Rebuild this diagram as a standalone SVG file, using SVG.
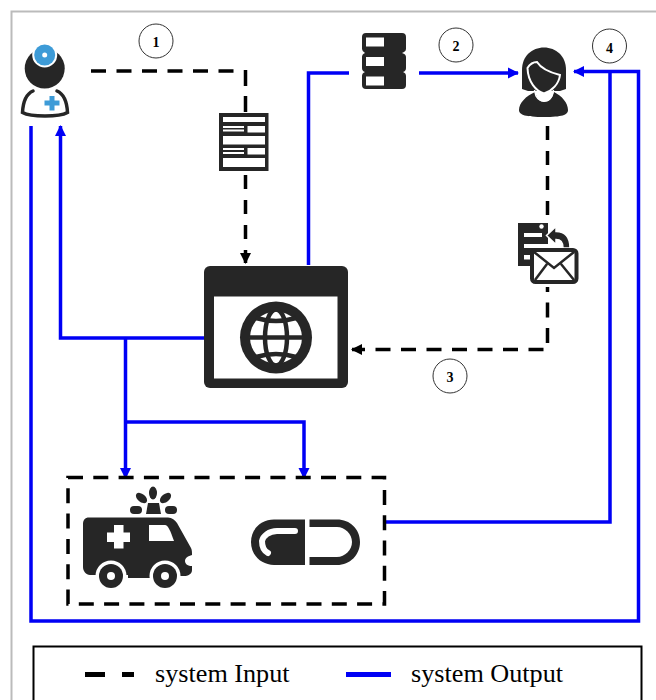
<svg xmlns="http://www.w3.org/2000/svg" width="656" height="700" viewBox="0 0 656 700">
<style>
.ic{fill:#262626}
.wh{fill:#fff}
.in{fill:none;stroke:#000;stroke-width:3.5;stroke-dasharray:15 10.5}
.out{fill:none;stroke:#0000f5;stroke-width:3.5}
.num circle{fill:#fff;stroke:#333;stroke-width:1}
.num text{font:bold 14px "Liberation Serif",serif;text-anchor:middle;fill:#000}
.leg{font:26.2px "Liberation Serif",serif;fill:#000}
</style>
<defs>
<marker id="ab" markerUnits="userSpaceOnUse" markerWidth="12" markerHeight="12" refX="10" refY="6" orient="auto"><path d="M0 0.500L11 6L0 11.500Z" fill="#0000f5"/></marker>
<marker id="ak" markerUnits="userSpaceOnUse" markerWidth="12" markerHeight="12" refX="10" refY="6" orient="auto"><path d="M0 0.500L11 6L0 11.500Z" fill="#000"/></marker>
</defs>
<rect width="656" height="700" fill="#fff"/>
<path d="M11.500 700V11.500H656" fill="none" stroke="#bbb" stroke-width="2"/>
<g id="connectors">
<path class="in" d="M91 71H234"/>
<path class="in" d="M245.500 70V113" style="stroke-dasharray:16 10"/>
<path class="in" d="M245.500 175V263" style="stroke-dasharray:14 11" marker-end="url(#ak)"/>
<path class="in" d="M547.500 126V218" style="stroke-dasharray:14 11"/>
<path class="in" d="M547.500 287V349.500H352" style="stroke-dashoffset:10" marker-end="url(#ak)"/>
<path class="out" d="M31 126V621H638.500V71.500H574" marker-end="url(#ab)"/>
<path class="out" d="M205 338H60.500V126" marker-end="url(#ab)"/>
<path class="out" d="M125.500 338V478" marker-end="url(#ab)"/>
<path class="out" d="M125.500 422H304V478" marker-end="url(#ab)"/>
<path class="out" d="M308.500 265V73H349"/>
<path class="out" d="M419 73H518" marker-end="url(#ab)"/>
<path class="out" d="M385 522H610V72"/>
<rect x="68" y="477.500" width="316.500" height="126.500" fill="none" stroke="#000" stroke-width="3.500" stroke-dasharray="15 10.300"/>
</g>
<g id="step1" class="num"><circle cx="156" cy="41" r="17"/><text x="156" y="47">1</text></g>
<g id="step2" class="num"><circle cx="456" cy="45" r="17"/><text x="456" y="51">2</text></g>
<g id="step3" class="num"><circle cx="450" cy="376" r="17"/><text x="450" y="382">3</text></g>
<g id="step4" class="num"><circle cx="609.500" cy="46" r="17"/><text x="609.500" y="53">4</text></g>
<g id="doctor">
<circle class="ic" cx="44.700" cy="68.500" r="20"/>
<circle cx="44.700" cy="55" r="12.500" fill="#fff"/>
<circle cx="44.700" cy="55" r="10.500" fill="#3d9bd7"/>
<circle cx="44.700" cy="55" r="2.500" fill="#fff"/>
<path d="M33 91C26 94 23 103 22.500 112.500C28 115.500 37 116 45 116C53 116 62 115.500 67.500 112.500C67 103 64 94 57 91" fill="none" stroke="#262626" stroke-width="3.500" stroke-linecap="round"/>
<path d="M49.500 96H54.500V100.500H59.500V105.500H54.500V110.500H49.500V105.500H44.500V100.500H49.500Z" fill="#3d9bd7"/>
</g>
<g id="form">
<rect class="ic" x="219" y="113" width="49.500" height="58"/>
<g class="wh"><rect x="223" y="117" width="42" height="5"/><rect x="247.500" y="126" width="17.500" height="6.500"/><rect x="223" y="136" width="42" height="8.500"/><rect x="247.500" y="148" width="17.500" height="6.500"/><rect x="223" y="158" width="42" height="9"/><rect x="223" y="126" width="21" height="2"/><rect x="223" y="129.500" width="21" height="2"/><rect x="223" y="148" width="21" height="2"/><rect x="223" y="152" width="21" height="2"/></g>
</g>
<g id="server">
<path class="ic" d="M366 33H402Q406 33 406 37V49Q406 51 404 52Q402 53 402 53Q406 54 406 57V68Q406 71 403 72Q406 73 406 76V85Q406 89 402 89H366Q362 89 362 85V76Q362 73 365 72Q362 71 362 68V57Q362 54 365 53Q362 51 362 49V37Q362 33 366 33Z"/>
<g class="wh"><rect x="366" y="37.500" width="18" height="9"/><rect x="366" y="57" width="18" height="9"/><rect x="366" y="76.500" width="18" height="9"/></g>
</g>
<g id="user">
<path class="ic" d="M544 47.500C556 47.500 566 56 566 70V89L560 91H528L522 89V70C522 56 532 47.500 544 47.500Z"/>
<path class="ic" d="M535 92C537 99 540 102 544 102C549 102 552 99 554 92C562 96 568 103 568 110C568 115 562 117 544 117C526 117 519 115 519 110C519 103 526 96 535 92Z"/>
<path d="M527.500 68C530 64 534 62 537 62C542 70 552 73 560 75C559 84 552 91 544 93.500C536 91 528 82 527.500 68Z" fill="#262626" stroke="#fff" stroke-width="2"/>
<path d="M534.500 90L536 96C538 99.500 541 101 544 101C547 101 550 99.500 552 96L553.500 90" fill="none" stroke="#fff" stroke-width="1.500"/>
</g>
<g id="mail">
<path class="ic" d="M518 223H548V244H535V266H518Z"/>
<g class="wh"><rect x="524" y="233" width="18" height="4"/><rect x="524" y="244" width="14" height="4"/><rect x="524" y="255" width="6" height="4.500"/><circle cx="541.500" cy="226.500" r="2.200"/></g>
<path d="M546.500 235.500L556 226.500V231.500C565 231.500 570 237 570 248H563C563 242 560 239.500 556 239.500V244.500Z" fill="#262626" stroke="#fff" stroke-width="1.500"/>
<rect x="532" y="250" width="44.500" height="32" rx="3.500" fill="#fff" stroke="#262626" stroke-width="4"/>
<path d="M534 252L554 268L574 252M535 280L547 264M574 280L561 264" fill="none" stroke="#262626" stroke-width="2.500"/>
</g>
<g id="browser">
<rect class="ic" x="204" y="266" width="144" height="122" rx="6"/>
<rect class="wh" x="214" y="296.500" width="123.500" height="82"/>
<circle class="ic" cx="276" cy="337.500" r="36"/>
<circle class="wh" cx="276" cy="337.500" r="26"/>
<g fill="none" stroke="#262626" stroke-width="4.500"><path d="M250 337.500H302"/><path d="M256 318Q276 324 296 318M256 357Q276 351 296 357"/><ellipse cx="276" cy="337.500" rx="11" ry="28"/></g>
</g>
<g id="ambulance">
<path class="ic" d="M89 517.500H168C172 517.500 175 520 177 523L191 548C192 550 192 552 192 555C188 556 185 558 185 561C185 564 188 566 192 566V570C192 574 188 576 184 576H180V578H128V575H90C86 575 83 571 83 567V524C83 520 85 517.500 89 517.500Z"/>
<circle class="wh" cx="111" cy="576" r="15.500"/><circle class="wh" cx="165" cy="576" r="15.500"/>
<circle class="ic" cx="111" cy="576" r="12"/><circle class="wh" cx="111" cy="576" r="4"/>
<circle class="ic" cx="165" cy="576" r="12"/><circle class="wh" cx="165" cy="576" r="4"/>
<path class="wh" d="M114 525H123.500V532.500H130V542H123.500V548.500H114V542H107V532.500H114Z"/>
<path class="wh" d="M149 525H165C168 525 170 530 174 541H149Z"/>
<path class="ic" d="M148 503H159L161 514H146Z"/>
<rect class="ic" x="130" y="506" width="12" height="8" rx="4"/><rect class="ic" x="165" y="506" width="12" height="8" rx="4"/>
<ellipse class="ic" cx="153" cy="493" rx="4" ry="6.500"/>
<ellipse class="ic" cx="141.500" cy="498" rx="4" ry="6.500" transform="rotate(-50 141.500 498)"/>
<ellipse class="ic" cx="165.500" cy="498" rx="4" ry="6.500" transform="rotate(50 165.500 498)"/>
</g>
<g id="pill">
<path class="ic" d="M305 519.500V565H274C261 565 251 555 251 542C251 529 261 519.500 274 519.500Z"/>
<path d="M295 531H277C269 531 263 536 262 541C262 547 264 551 268 553" fill="none" stroke="#fff" stroke-width="6" stroke-linecap="round"/>
<path class="ic" d="M309.500 519.500H337C350 519.500 360 529 360 542C360 555 350 565 337 565H309.500V557H337C345 557 352 550 352 542C352 534 345 527 337 527H309.500Z"/>
</g>
<g id="legend">
<rect x="33.500" y="646.500" width="608" height="60" fill="#fff" stroke="#000" stroke-width="2"/>
<path d="M85 674.500H105M122 674.500H134" stroke="#000" stroke-width="5"/>
<text class="leg" x="155" y="682">system Input</text>
<path d="M346 674.500H391" stroke="#0000f5" stroke-width="5"/>
<text class="leg" x="411" y="682">system Output</text>
</g>
</svg>
